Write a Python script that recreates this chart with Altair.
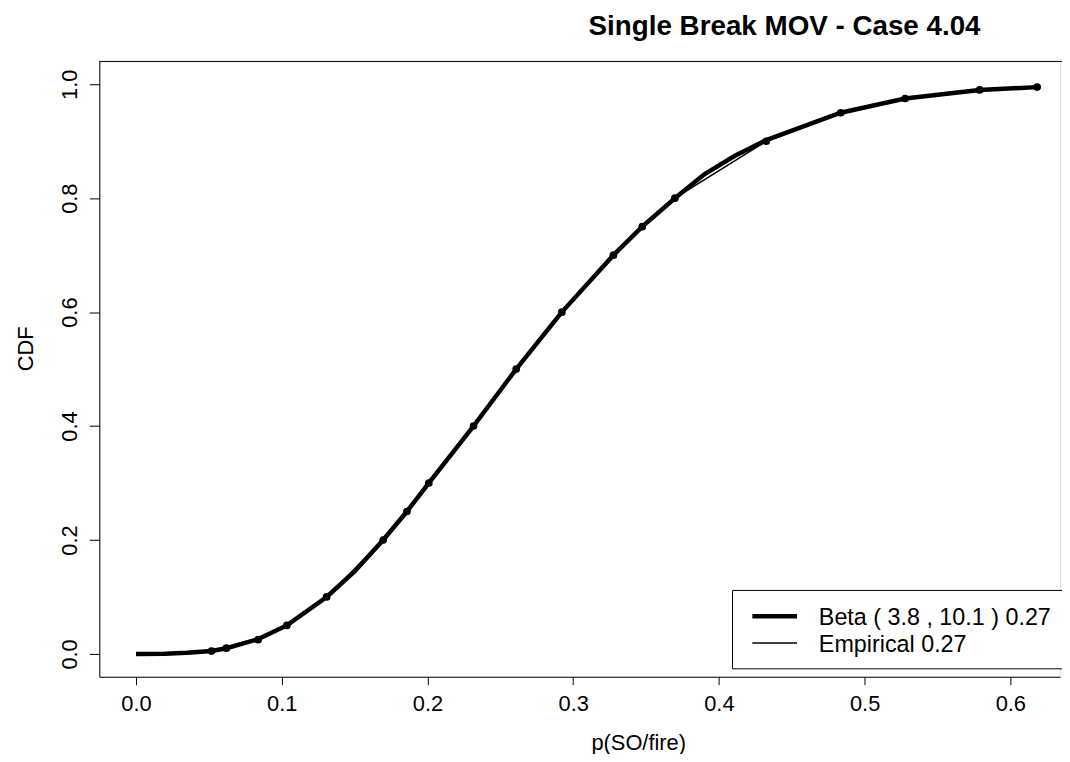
import altair as alt
import pandas as pd

# Empirical quantile points (x = p(SO/fire), y = CDF)
emp_x = [0.0518, 0.0620, 0.0838, 0.1035, 0.1308, 0.1696, 0.1859, 0.2009, 0.2316,
         0.2609, 0.2922, 0.3276, 0.3474, 0.3698, 0.4325, 0.4836, 0.5278, 0.5789, 0.6184]
emp_y = [0.005, 0.010, 0.025, 0.050, 0.100, 0.200, 0.250, 0.300, 0.400,
         0.500, 0.600, 0.700, 0.750, 0.800, 0.900, 0.950, 0.975, 0.990, 0.995]

# Fitted Beta CDF curve
beta_x = [0.0, 0.020, 0.035, 0.0518, 0.0620, 0.0838, 0.1035, 0.1308, 0.150, 0.1696,
          0.1859, 0.2009, 0.2316, 0.2609, 0.2922, 0.3276, 0.3474, 0.3698, 0.390,
          0.4107, 0.4325, 0.4836, 0.5278, 0.5789, 0.6184]
beta_y = [0.0, 0.0003, 0.002, 0.005, 0.010, 0.026, 0.050, 0.100, 0.145, 0.200,
          0.250, 0.300, 0.400, 0.500, 0.600, 0.700, 0.750, 0.800, 0.842,
          0.874, 0.902, 0.950, 0.975, 0.990, 0.995]

x_ticks = [0.0, 0.1, 0.2, 0.3, 0.4, 0.5, 0.6]
y_ticks = [0.0, 0.2, 0.4, 0.6, 0.8, 1.0]
legend_labels = ["Beta ( 3.8 , 10.1 ) 0.27", "Empirical 0.27"]
title_text = ["Single Break MOV - Case 4.04"]

W, H = 968, 620
FONT = "Liberation Sans"

emp = pd.DataFrame({"x": emp_x, "y": emp_y})
beta = pd.DataFrame({"x": beta_x, "y": beta_y})
one = pd.DataFrame({"d": [0]})

xscale = alt.Scale(domain=[-0.0252, 0.6341], nice=False, zero=False)
yscale = alt.Scale(domain=[-0.0401, 1.0401], nice=False, zero=False)

xaxis = alt.Axis(values=x_ticks, format=".1f", title="p(SO/fire)", grid=False,
                 tickSize=8, tickColor="black", domainColor="black", labelColor="black",
                 labelFontSize=22, labelFont=FONT, labelPadding=9,
                 titleFontSize=22, titleFont=FONT, titleFontWeight="normal",
                 titleX=543, titleY=73, titleBaseline="alphabetic", titleAlign="center")
yaxis = alt.Axis(values=y_ticks, format=".1f", title="CDF", grid=False,
                 tickSize=10, tickColor="black", domainColor="black", labelColor="black",
                 labelFontSize=22, labelFont=FONT, labelAngle=-90, labelPadding=8,
                 labelAlign="center", labelBaseline="bottom",
                 titleFontSize=22, titleFont=FONT, titleFontWeight="normal",
                 titleAngle=-90, titleX=-67, titleY=289, titleBaseline="alphabetic",
                 titleAlign="center")

beta_line = alt.Chart(beta).mark_line(color="black", strokeWidth=4.5).encode(
    x=alt.X("x:Q", scale=xscale, axis=xaxis),
    y=alt.Y("y:Q", scale=yscale, axis=yaxis),
    order="x:Q",
)
emp_line = alt.Chart(emp).mark_line(color="black", strokeWidth=1.5).encode(
    x=alt.X("x:Q", scale=xscale), y=alt.Y("y:Q", scale=yscale), order="x:Q"
)
emp_pts = alt.Chart(emp).mark_circle(color="black", size=60, opacity=1).encode(
    x=alt.X("x:Q", scale=xscale), y=alt.Y("y:Q", scale=yscale)
)

top_rule = alt.Chart(one).mark_rule(color="black", strokeWidth=1).encode(
    x=alt.value(0), x2=alt.value(W + 5), y=alt.value(0)
)

legend_box = alt.Chart(one).mark_rect(fill="white", stroke="black", strokeWidth=1).encode(
    x=alt.value(638), x2=alt.value(W + 10), y=alt.value(533), y2=alt.value(612)
)
leg_thick = alt.Chart(one).mark_rule(color="black", strokeWidth=4.5).encode(
    x=alt.value(658), x2=alt.value(703), y=alt.value(559)
)
leg_thin = alt.Chart(one).mark_rule(color="black", strokeWidth=1.5).encode(
    x=alt.value(658), x2=alt.value(703), y=alt.value(586)
)
leg_df = pd.DataFrame({"label": legend_labels, "yy": [561, 588]})
leg_text = alt.Chart(leg_df).mark_text(align="left", baseline="middle", fontSize=23.5,
                                       font=FONT, color="black").encode(
    x=alt.value(725), y=alt.Y("yy:Q", scale=None), text="label:N"
)

title_df = pd.DataFrame({"t": title_text})
title_mark = alt.Chart(title_df).mark_text(align="left", baseline="alphabetic",
                                           fontSize=28, fontWeight="bold", font=FONT,
                                           color="black").encode(
    x=alt.value(493), y=alt.value(-27), text="t:N"
)

chart = alt.layer(
    beta_line, emp_line, emp_pts, top_rule, legend_box, leg_thick, leg_thin, leg_text,
    title_mark
).properties(
    width=W, height=H,
    autosize=alt.AutoSizeParams(type="none"),
    padding={"left": 92, "top": 51, "right": 2, "bottom": 75},
).configure_view(stroke=None).configure(background="white")

chart.save("out.html", embed_options={"renderer": "svg", "actions": False})
